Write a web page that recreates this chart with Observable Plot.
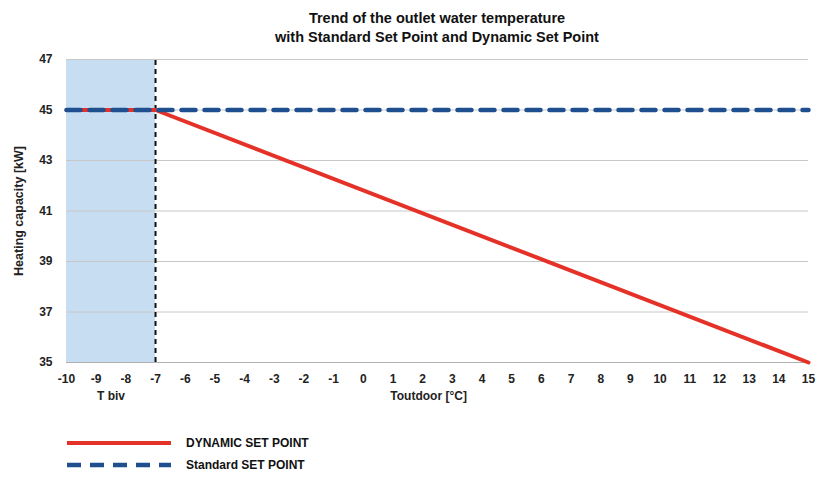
<!DOCTYPE html>
<html><head><meta charset="utf-8">
<script src="https://cdn.jsdelivr.net/npm/d3@7"></script>
<script src="https://cdn.jsdelivr.net/npm/@observablehq/plot@0.6"></script>
<style>
body{margin:0;background:#fff;font-family:"Liberation Sans Narrow","Arial Narrow","Liberation Sans",Arial,sans-serif;}
#title{width:816px;text-align:center;font-weight:bold;font-size:14.5px;line-height:19px;padding-top:9px;padding-left:58px;box-sizing:border-box;color:#111;height:48px;}
#legend{position:relative;height:64px;font-weight:bold;font-size:12px;color:#111;}
.li{position:absolute;left:66px;display:flex;align-items:center;}
.li span{margin-left:14px;}
</style></head>
<body>
<div id="title">Trend of the outlet water temperature<br>with Standard Set Point and Dynamic Set Point</div>
<div id="chart"></div>
<div id="legend">
  <div class="li" style="top:23px"><svg width="106" height="8"><line x1="1" x2="105" y1="4" y2="4" stroke="#e53228" stroke-width="4"/></svg><span>DYNAMIC SET POINT</span></div>
  <div class="li" style="top:45px"><svg width="106" height="8"><line x1="1" x2="105" y1="4" y2="4" stroke="#1f4f8f" stroke-width="4.5" stroke-dasharray="14,9"/></svg><span>Standard SET POINT</span></div>
</div>
<script>
const xTicks = d3.range(-10, 16);
const yTicks = [35, 37, 39, 41, 43, 45, 47];
const dynamicT = [-10, -7, 15];
const dynamicV = [45, 45, 35];
const standardT = [-10, 15];
const standardV = [45, 45];
const tBiv = -7;
const bandStart = -10;

const dyn = dynamicT.map((t, i) => ({t, v: dynamicV[i]}));
const std = standardT.map((t, i) => ({t, v: standardV[i]}));

const chart = Plot.plot({
  width: 816, height: 365,
  marginLeft: 66, marginRight: 8, marginTop: 11, marginBottom: 51,
  style: {fontFamily: '"Liberation Sans Narrow","Arial Narrow","Liberation Sans",Arial,sans-serif', fontSize: "12px", fontWeight: "bold", color: "#222"},
  x: {domain: [-10, 15], ticks: xTicks, tickSize: 0, tickPadding: 12, label: null, tickFormat: d => String(d)},
  y: {domain: [35, 47], ticks: yTicks, tickSize: 0, tickPadding: 14, label: null, tickFormat: d => String(d)},
  marks: [
    Plot.rect([{x1: bandStart, x2: tBiv, y1: 35, y2: 47}], {x1: "x1", x2: "x2", y1: "y1", y2: "y2", fill: "#c6ddf2"}),
    Plot.gridY(yTicks, {stroke: "#c8c8c8", strokeOpacity: 1, strokeWidth: 1}),
    Plot.ruleY([35], {stroke: "#b0b0b0"}),
    Plot.ruleX([tBiv], {y1: 35, y2: 47, stroke: "#111", strokeWidth: 2, strokeDasharray: "5,4"}),
    Plot.line(dyn, {x: "t", y: "v", stroke: "#e53228", strokeWidth: 4}),
    Plot.line(std, {x: "t", y: "v", stroke: "#1f4f8f", strokeWidth: 4.5, strokeDasharray: "14,9"}),
    Plot.text(["T biv"], {x: -8.5, y: 35, dy: 34, text: d => d, fontWeight: "bold", fontSize: 12}),
    Plot.text(["Toutdoor [°C]"], {x: 2.2, y: 35, dy: 34, text: d => d, fontWeight: "bold", fontSize: 12}),
    Plot.text(["Heating capacity [kW]"], {x: -10, y: 41, dx: -48, rotate: -90, text: d => d, fontWeight: "bold", fontSize: 12.5})
  ]
});
document.getElementById("chart").append(chart);
</script>
</body></html>
